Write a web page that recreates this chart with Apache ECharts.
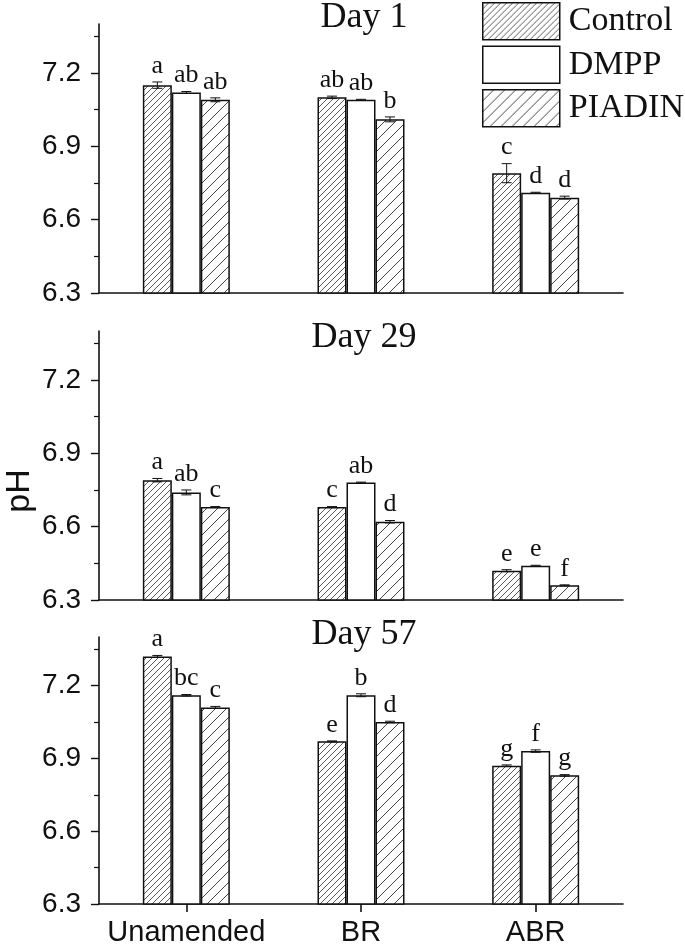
<!DOCTYPE html>
<html>
<head>
<meta charset="utf-8">
<title>pH</title>
<script src="https://cdn.jsdelivr.net/npm/echarts@6/dist/echarts.min.js"></script>
<style>
  html, body { margin: 0; padding: 0; background: #fff; }
  #chart { width: 685px; height: 947px; }
</style>
</head>
<body>
<div id="chart"></div>
<script>
// categories, treatments and panel titles
const categories = ['Unamended', 'BR', 'ABR']
const treatments = ['Control', 'DMPP', 'PIADIN']
const days = ['Day 1', 'Day 29', 'Day 57']

// mean pH, one row per treatment (Control, DMPP, PIADIN), columns = categories
const day1Mean = [[7.15, 7.10, 6.79], [7.12, 7.09, 6.71], [7.09, 7.01, 6.69]]
const day29Mean = [[6.79, 6.68, 6.42], [6.74, 6.78, 6.44], [6.68, 6.62, 6.36]]
const day57Mean = [[7.32, 6.97, 6.87], [7.16, 7.16, 6.93], [7.11, 7.05, 6.83]]

// standard errors
const day1Err = [[0.013, 0.005, 0.039], [0.004, 0.002, 0.002], [0.008, 0.010, 0.006]]
const day29Err = [[0.007, 0.002, 0.004], [0.010, 0.002, 0.002], [0.002, 0.005, 0.002]]
const day57Err = [[0.004, 0.002, 0.003], [0.003, 0.006, 0.005], [0.004, 0.003, 0.003]]

// significance letters
const day1Letters = [['a', 'ab', 'c'], ['ab', 'ab', 'd'], ['ab', 'b', 'd']]
const day29Letters = [['a', 'c', 'e'], ['ab', 'ab', 'e'], ['c', 'd', 'f']]
const day57Letters = [['a', 'e', 'g'], ['bc', 'b', 'f'], ['c', 'd', 'g']]

// y axis ticks
const yMajorTicks = [6.3, 6.6, 6.9, 7.2]
const yMinorTicks = [6.45, 6.75, 7.05, 7.35]
const yMin = 6.3
const yMax = 7.4

const means = [day1Mean, day29Mean, day57Mean]
const errs = [day1Err, day29Err, day57Err]
const letters = [day1Letters, day29Letters, day57Letters]

const BAR_W = 29
const gridTops = [24, 331, 637]
const titleTops = [0, 320, 617]
const GRID_H = 269
const SANS = '"Liberation Sans", Arial, sans-serif'
const SERIF = '"Liberation Serif", "Times New Roman", serif'

// diagonal hatch tiles
function hatch(step, color) {
    let c = document.createElement('canvas')
    c.width = step
    c.height = step
    let ctx = c.getContext('2d')
    ctx.fillStyle = '#fff'
    ctx.fillRect(0, 0, step, step)
    ctx.strokeStyle = color
    ctx.lineWidth = 1
    ctx.beginPath()
    ctx.moveTo(-1, step + 1)
    ctx.lineTo(step + 1, -1)
    ctx.moveTo(-1, 1)
    ctx.lineTo(1, -1)
    ctx.moveTo(step - 1, step + 1)
    ctx.lineTo(step + 1, step - 1)
    ctx.stroke()
    return c
}

const fills = [
    { image: hatch(6, '#5a5a5a'), repeat: 'repeat' },
    '#ffffff',
    { image: hatch(11, '#444444'), repeat: 'repeat' }
]

let myChart = echarts.init(document.getElementById('chart'), null, { renderer: 'canvas' })

let grids = [], xAxes = [], yAxes = [], series = [], titles = []

days.forEach(function (day, d) {
    grids.push({ left: 99, right: 62, top: gridTops[d], height: GRID_H })
    titles.push({
        text: day,
        left: 364,
        textAlign: 'center',
        top: titleTops[d],
        padding: 0,
        textStyle: { fontFamily: SERIF, fontSize: 36, fontWeight: 'normal', color: '#111' }
    })
    let last = d === days.length - 1
    xAxes.push({
        type: 'category',
        gridIndex: d,
        data: categories,
        axisLine: { lineStyle: { color: '#111', width: 1.6 } },
        axisTick: { show: last, alignWithLabel: true, length: 8, lineStyle: { color: '#111', width: 1.6 } },
        axisLabel: { show: last, interval: 0, margin: 14, fontFamily: SANS, fontSize: 29, color: '#111' },
        splitLine: { show: false }
    })
    // main axis: line, major ticks and labels
    yAxes.push({
        type: 'value',
        gridIndex: d,
        min: yMin,
        max: yMax,
        axisLine: { show: true, lineStyle: { color: '#111', width: 1.6 } },
        axisTick: { show: true, length: 8, customValues: yMajorTicks, lineStyle: { color: '#111', width: 1.4 } },
        axisLabel: {
            margin: 18, fontFamily: SANS, fontSize: 28, color: '#111',
            customValues: yMajorTicks,
            formatter: function (v) { return v.toFixed(1) }
        },
        splitLine: { show: false }
    })
    // second axis in the same grid for the minor ticks
    yAxes.push({
        type: 'value',
        gridIndex: d,
        position: 'left',
        min: yMin,
        max: yMax,
        axisLine: { show: false },
        axisTick: { show: true, length: 5, customValues: yMinorTicks, lineStyle: { color: '#111', width: 1.2 } },
        axisLabel: { show: false },
        splitLine: { show: false }
    })

    treatments.forEach(function (name, t) {
        series.push({
            name: name,
            type: 'bar',
            xAxisIndex: d,
            yAxisIndex: d * 2,
            barWidth: BAR_W,
            barGap: '0%',
            data: means[d][t],
            itemStyle: { color: fills[t], borderColor: '#111', borderWidth: 1.5 },
            emphasis: { disabled: true },
            z: 2
        })
    })

    // error bars and letters
    let errData = []
    treatments.forEach(function (name, t) {
        categories.forEach(function (cat, c) {
            errData.push([c, means[d][t][c], errs[d][t][c], t])
        })
    })
    series.push({
        type: 'custom',
        xAxisIndex: d,
        yAxisIndex: d * 2,
        data: errData,
        z: 5,
        silent: true,
        renderItem: function (params, api) {
            let c = api.value(0), m = api.value(1), e = api.value(2), t = api.value(3)
            let hi = api.coord([c, m + e])
            let lo = api.coord([c, m - e])
            let x = hi[0] + (t - 1) * BAR_W
            let cap = 5
            let txt = letters[d][t][c]
            return {
                type: 'group',
                children: [
                    { type: 'line', shape: { x1: x, y1: hi[1], x2: x, y2: lo[1] }, style: { stroke: '#111', lineWidth: 1 } },
                    { type: 'line', shape: { x1: x - cap, y1: hi[1], x2: x + cap, y2: hi[1] }, style: { stroke: '#111', lineWidth: 1 } },
                    { type: 'line', shape: { x1: x - cap, y1: lo[1], x2: x + cap, y2: lo[1] }, style: { stroke: '#111', lineWidth: 1 } },
                    {
                        type: 'text',
                        x: x,
                        y: hi[1] - 3,
                        style: {
                            text: txt,
                            font: '26px ' + SERIF,
                            fill: '#111',
                            align: 'center', verticalAlign: 'bottom',
                            textAlign: 'center', textVerticalAlign: 'bottom'
                        }
                    }
                ]
            }
        }
    })
})

let option = {
    animation: false,
    backgroundColor: '#fff',
    title: titles,
    legend: {
        orient: 'vertical',
        left: 482,
        top: 2,
        padding: 0,
        itemWidth: 77,
        itemHeight: 37,
        itemGap: 5,
        icon: 'rect',
        selectedMode: false,
        data: treatments.map(function (name, t) {
            return { name: name, itemStyle: { color: fills[t], borderColor: '#111', borderWidth: 1.5 } }
        }),
        textStyle: { fontFamily: SERIF, fontSize: 34, color: '#111', padding: [0, 0, 0, 4] }
    },
    grid: grids,
    xAxis: xAxes,
    yAxis: yAxes,
    series: series,
    graphic: [{
        type: 'text',
        x: 20,
        y: 491,
        rotation: Math.PI / 2,
        style: {
            text: 'pH',
            font: '34px ' + SANS,
            fill: '#111',
            align: 'center', verticalAlign: 'middle',
            textAlign: 'center', textVerticalAlign: 'middle'
        }
    }]
}

myChart.setOption(option)
</script>
</body>
</html>
